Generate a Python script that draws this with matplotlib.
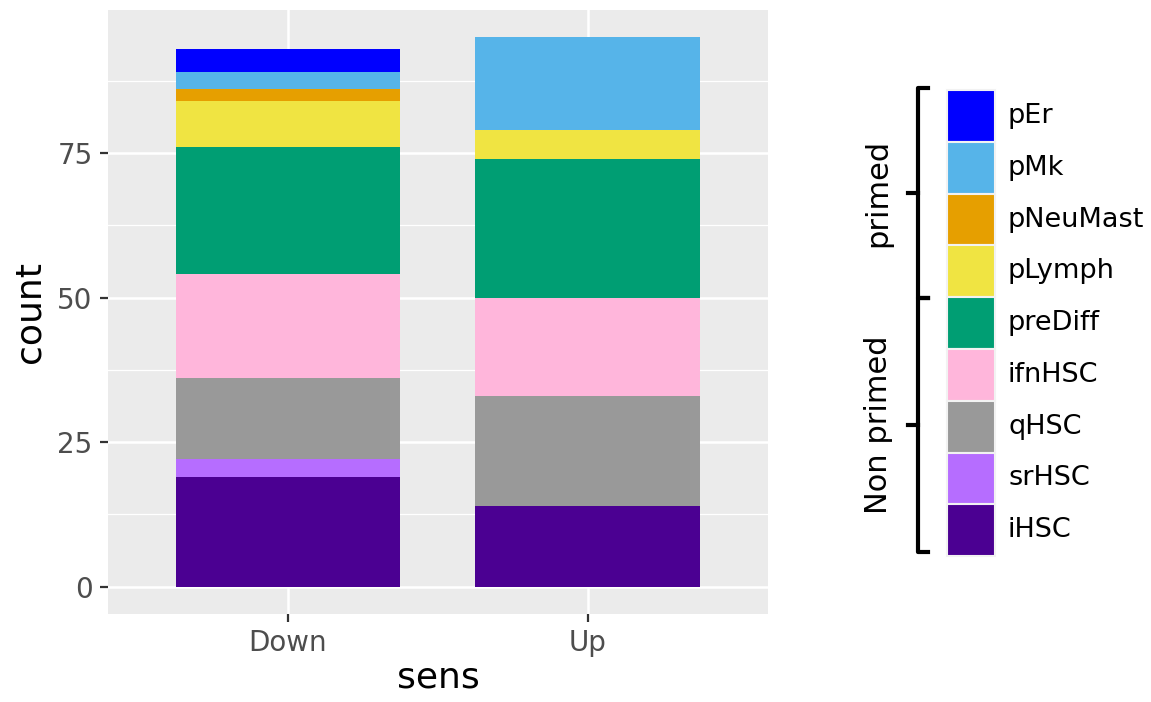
import matplotlib
matplotlib.use("Agg")
import matplotlib.pyplot as plt
from matplotlib.patches import Rectangle
from matplotlib.lines import Line2D
import numpy as np

categories = ["Down", "Up"]
cell_types = ["iHSC", "srHSC", "qHSC", "ifnHSC", "preDiff", "pLymph", "pNeuMast", "pMk", "pEr"]
colors = ["#4B0092", "#B66DFF", "#999999", "#FFB6DB", "#009E73", "#F0E442", "#E69F00", "#56B4E9", "#0000FF"]
down_counts = [19, 3, 14, 18, 22, 8, 2, 3, 4]
up_counts = [14, 0, 19, 17, 24, 5, 0, 16, 0]
y_ticks = [0, 25, 50, 75]
groups = [("primed", ["pEr", "pMk", "pNeuMast", "pLymph"]),
          ("Non primed", ["preDiff", "ifnHSC", "qHSC", "srHSC", "iHSC"])]

W, H = 1151, 702
fig = plt.figure(figsize=(W / 100, H / 100), dpi=100)
ax = fig.add_axes([108 / W, 1 - 614 / H, (768 - 108) / W, (614 - 10) / H])
ax.set_facecolor("#EBEBEB")

x = np.arange(1, len(categories) + 1)
vals = np.array([down_counts, up_counts])
bottom = np.zeros(len(categories))
for i, ct in enumerate(cell_types):
    ax.bar(x, vals[:, i], bottom=bottom, width=0.75, color=colors[i], edgecolor="none", zorder=3)
    bottom += vals[:, i]

ax.set_xlim(0.4, 2.6)
ax.set_ylim(-4.75, 99.75)
ax.set_xticks(x)
ax.set_xticklabels(categories)
ax.set_yticks(y_ticks)
for yv in y_ticks:
    ax.axhline(yv, color="white", lw=1.8, zorder=1)
for yv in [12.5, 37.5, 62.5, 87.5]:
    ax.axhline(yv, color="white", lw=0.9, zorder=1)
for xv in x:
    ax.axvline(xv, color="white", lw=1.8, zorder=1)
for s in ax.spines.values():
    s.set_visible(False)
ax.tick_params(axis="both", colors="#333333", labelcolor="#4D4D4D", labelsize=20, length=6, width=1.6)
ax.tick_params(axis="x", pad=5)
ax.tick_params(axis="y", pad=5)
ax.set_xlabel("sens", fontsize=26, color="black", labelpad=2)
ax.set_ylabel("count", fontsize=26, color="black", labelpad=8)

# legend drawn manually in figure pixel coords
def fx(px):
    return px / W

def fy(py):
    return 1 - py / H

order = ["pEr", "pMk", "pNeuMast", "pLymph", "preDiff", "ifnHSC", "qHSC", "srHSC", "iHSC"]
top = 90
kh = 51.8
for j, name in enumerate(order):
    c = colors[cell_types.index(name)]
    y0 = top + j * kh
    fig.patches.append(Rectangle((fx(947), fy(y0 + kh)), fx(995) - fx(947), kh / H,
                                 transform=fig.transFigure, facecolor=c,
                                 edgecolor="#F2F2F2", lw=1.5))
    fig.text(fx(1008), fy(y0 + kh / 2), name, fontsize=19.5, va="center", ha="left", color="black")

# brackets
def bracket(y_top, y_bot, label):
    xb = 918
    fig.lines.append(Line2D([fx(xb + 10), fx(xb), fx(xb), fx(xb + 10)],
                            [fy(y_top), fy(y_top), fy(y_bot), fy(y_bot)],
                            transform=fig.transFigure, color="black", lw=3))
    ym = (y_top + y_bot) / 2
    fig.lines.append(Line2D([fx(xb - 10), fx(xb)], [fy(ym), fy(ym)],
                            transform=fig.transFigure, color="black", lw=3))
    fig.text(fx(878), fy(ym), label, rotation=90, fontsize=22, va="center", ha="center")

bracket(88, 298, groups[0][0])
bracket(298, 552, groups[1][0])

fig.savefig("out.png", dpi=100, facecolor="white")
